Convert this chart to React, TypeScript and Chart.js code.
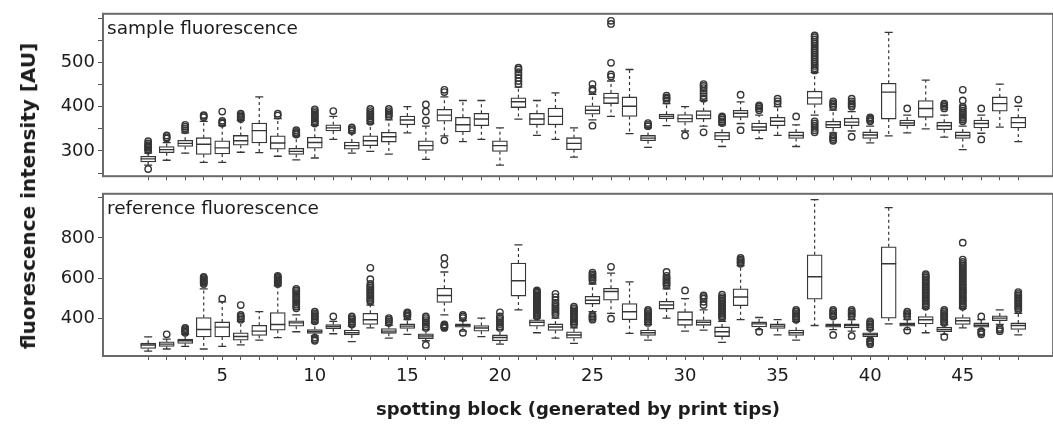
import React, { useEffect, useRef } from 'react';
import { Chart, registerables } from 'chart.js';

Chart.register(...registerables);

// ---------------- data ----------------
const blocks = [1, 2, 3, 4, 5, 6, 7, 8, 9, 10, 11, 12, 13, 14, 15, 16, 17, 18, 19, 20, 21, 22, 23, 24, 25, 26, 27, 28, 29, 30, 31, 32, 33, 34, 35, 36, 37, 38, 39, 40, 41, 42, 43, 44, 45, 46, 47, 48];
const xTickLabels = [5, 10, 15, 20, 25, 30, 35, 40, 45];

const sampleYTicks = [250, 300, 350, 400, 450, 500, 550, 600];
const sampleYLabels = [300, 400, 500];
const refYTicks = [400, 600, 800, 1000];
const refYLabels = [400, 600, 800];

// sample fluorescence
const sampleLow = [268, 279, 295, 274, 274, 297, 296, 288, 280, 284, 326, 295, 299, 293, 341, 281, 334, 321, 326, 268, 372, 335, 326, 286, 370, 378, 339, 308, 357, 345, 356, 310, 362, 328, 335, 310, 381, 341, 345, 318, 334, 341, 350, 331, 303, 340, 354, 321];
const sampleQ1 = [275, 296, 310, 292, 293, 313, 318, 304, 292, 306, 345, 304, 312, 320, 359, 301, 367, 343, 357, 299, 398, 359, 359, 303, 383, 407, 378, 323, 373, 365, 372, 325, 376, 346, 357, 328, 405, 352, 357, 328, 372, 357, 376, 348, 328, 352, 390, 352];
const sampleMed = [282, 303, 317, 315, 307, 323, 346, 318, 299, 319, 352, 312, 323, 332, 370, 312, 381, 359, 372, 312, 411, 372, 378, 317, 392, 420, 401, 329, 378, 373, 381, 334, 385, 354, 367, 335, 420, 359, 365, 336, 433, 363, 396, 357, 335, 362, 407, 364];
const sampleQ3 = [288, 310, 324, 330, 323, 335, 363, 334, 306, 331, 359, 320, 334, 342, 379, 323, 394, 376, 385, 323, 420, 385, 397, 330, 402, 431, 422, 335, 383, 382, 391, 342, 392, 363, 376, 343, 435, 367, 374, 343, 453, 370, 414, 365, 343, 370, 422, 376];
const sampleHigh = [295, 319, 341, 367, 357, 369, 422, 373, 334, 358, 378, 341, 362, 370, 400, 356, 422, 414, 414, 352, 444, 414, 431, 352, 428, 458, 484, 352, 407, 400, 414, 359, 411, 381, 400, 359, 477, 392, 389, 356, 568, 381, 460, 381, 356, 381, 451, 401];
const sampleOutliers = [
  [259, 301, 304, 307, 310, 313, 317, 322],
  [328, 331, 335],
  [347, 351, 355, 359],
  [376, 379, 381],
  [362, 365, 368, 389],
  [372, 375, 378, 381, 384],
  [],
  [380, 384],
  [337, 340, 343, 347],
  [362, 366, 370, 374, 378, 382, 386, 390, 394],
  [390],
  [345, 349, 353],
  [366, 370, 374, 378, 382, 386, 390, 395],
  [378, 382, 386, 390, 395],
  [],
  [369, 389, 405],
  [324, 433, 438],
  [],
  [],
  [],
  [451, 458, 465, 472, 478, 484, 488],
  [],
  [],
  [],
  [357, 436, 440, 451],
  [468, 473, 499, 587, 594],
  [],
  [356, 359, 363],
  [414, 418, 421, 425],
  [335],
  [342, 418, 424, 430, 436, 442, 447, 451],
  [363, 367, 371, 375, 378],
  [347, 427],
  [392, 396, 400, 403],
  [407, 412, 418],
  [378],
  [342, 347, 352, 357, 362, 367, 482, 487, 492, 497, 502, 507, 512, 517, 522, 527, 532, 537, 542, 547, 552, 557, 561],
  [323, 327, 331, 335, 400, 404, 408, 412],
  [332, 400, 404, 408, 412, 418],
  [367, 370, 373, 376],
  [],
  [396],
  [],
  [396, 400, 404, 407],
  [367, 371, 375, 379, 383, 387, 391, 396, 400, 414, 438],
  [326, 396],
  [],
  [416],
];

// reference fluorescence
const refLow = [235, 246, 259, 246, 259, 266, 290, 303, 332, 311, 322, 283, 351, 300, 319, 287, 416, 335, 308, 270, 441, 327, 300, 274, 432, 424, 324, 290, 400, 335, 340, 279, 392, 343, 316, 290, 363, 343, 335, 295, 371, 343, 327, 319, 351, 343, 368, 316];
const refQ1 = [249, 259, 274, 306, 306, 290, 314, 340, 360, 324, 347, 316, 368, 324, 348, 298, 478, 355, 335, 287, 510, 360, 338, 300, 470, 489, 392, 314, 445, 364, 364, 308, 462, 356, 348, 314, 494, 355, 351, 308, 400, 360, 371, 332, 368, 355, 387, 343];
const refMed = [266, 270, 287, 343, 355, 308, 335, 368, 376, 334, 358, 327, 392, 335, 360, 311, 513, 364, 351, 303, 586, 379, 356, 316, 489, 533, 432, 327, 465, 392, 379, 332, 505, 371, 360, 327, 606, 363, 363, 319, 671, 368, 392, 343, 387, 364, 400, 363];
const refQ3 = [275, 282, 295, 403, 381, 327, 364, 428, 387, 343, 368, 340, 424, 348, 371, 322, 549, 371, 363, 316, 675, 392, 371, 332, 509, 549, 473, 340, 484, 432, 392, 356, 546, 381, 371, 340, 716, 371, 371, 327, 756, 376, 408, 355, 403, 376, 411, 376];
const refHigh = [306, 295, 319, 546, 481, 384, 432, 562, 416, 376, 384, 360, 465, 364, 392, 343, 630, 387, 400, 343, 765, 400, 400, 351, 570, 624, 581, 368, 546, 497, 441, 384, 662, 403, 392, 384, 991, 400, 392, 343, 951, 392, 449, 368, 449, 392, 441, 424];
const refOutliers = [
  [],
  [319],
  [327, 333, 339, 345, 351],
  [570, 576, 582, 588, 594, 600, 606],
  [497],
  [392, 400, 408, 416, 465],
  [],
  [570, 576, 582, 588, 594, 600, 606, 611],
  [449, 458, 467, 476, 485, 494, 503, 512, 521, 530, 538, 546],
  [287, 295, 303, 384, 392, 400, 408, 416, 424, 432],
  [408],
  [368, 376, 384, 392, 400, 408],
  [481, 489, 497, 505, 513, 521, 529, 537, 545, 553, 561, 570, 594, 651],
  [376, 384, 392, 400],
  [408, 414, 420, 426, 429],
  [266, 351, 360, 370, 380, 390, 400, 408],
  [351, 355, 360, 364, 368, 667, 700],
  [327, 400, 408, 416],
  [],
  [351, 360, 370, 380, 390, 400, 408, 429],
  [],
  [408, 415, 422, 429, 436, 443, 450, 457, 464, 471, 478, 485, 492, 499, 506, 513, 520, 527, 533, 538],
  [416, 426, 436, 446, 456, 466, 476, 490, 505, 521],
  [368, 376, 384, 392, 400, 408, 416, 424, 432, 440, 449, 457],
  [392, 400, 408, 416, 586, 594, 602, 610, 618, 627],
  [397, 656],
  [],
  [376, 384, 392, 400, 408, 416, 424, 432, 441],
  [562, 570, 578, 586, 594, 602, 611, 630],
  [538],
  [465, 481, 497, 505, 513],
  [400, 408, 416, 424, 432, 441, 449, 457, 465, 473, 481, 489, 497, 505, 517],
  [671, 678, 685, 692, 700],
  [332],
  [],
  [392, 400, 408, 416, 424, 432, 441],
  [],
  [316, 408, 416, 424, 432, 441],
  [311, 408, 416, 424, 432, 441],
  [270, 276, 282, 290, 351, 360, 368, 376, 384],
  [],
  [338, 408, 416, 424, 432],
  [457, 465, 473, 481, 489, 497, 505, 513, 521, 529, 537, 545, 553, 561, 570, 578, 586, 594, 602, 610, 619],
  [306, 376, 384, 392, 400, 408, 416, 424, 432, 441],
  [457, 465, 473, 481, 489, 497, 505, 513, 521, 529, 537, 545, 553, 561, 570, 580, 590, 600, 610, 620, 630, 640, 650, 660, 670, 680, 692, 776],
  [319, 327, 335, 408],
  [335, 343, 351],
  [441, 449, 457, 465, 473, 481, 489, 497, 505, 513, 521, 530],
];

// ---------------- styling ----------------
const FONT = "'DejaVu Sans', sans-serif";
const INK = '#1c1c1c';
const LINE = '#363636';
const FRAME = '#6a6a6a';
const X_MIN = -1.44;
const X_MAX = 49.88;

const framePlugin = {
  id: 'panelFrame',
  afterDraw(chart: any, _args: any, opts: any) {
    const { ctx, chartArea } = chart;
    const { left, top, right, bottom } = chartArea;
    ctx.save();
    ctx.strokeStyle = FRAME;
    ctx.lineWidth = 2;
    ctx.strokeRect(left, top, right - left, bottom - top);
    ctx.fillStyle = INK;
    ctx.font = `18.5px ${FONT}`;
    ctx.textBaseline = 'alphabetic';
    ctx.textAlign = 'left';
    ctx.fillText(opts.label, left + 4, top + 20);
    ctx.restore();
  },
};

function buildDatasets(lo: number[], q1: number[], med: number[], q3: number[], hi: number[], out: number[][]) {
  const whiskers: any[] = [];
  const caps: any[] = [];
  const outliers: any[] = [];
  blocks.forEach((b, i) => {
    whiskers.push({ x: b, y: q3[i] }, { x: b, y: hi[i] }, { x: b, y: null }, { x: b, y: q1[i] }, { x: b, y: lo[i] }, { x: b, y: null });
    caps.push({ x: b, y: lo[i] }, { x: b, y: hi[i] });
    out[i].forEach((v) => outliers.push({ x: b, y: v }));
  });
  return [
    {
      type: 'line',
      data: whiskers,
      borderColor: LINE,
      borderWidth: 1.2,
      borderDash: [3, 3],
      pointRadius: 0,
      spanGaps: false,
      order: 4,
    },
    {
      type: 'bar',
      data: blocks.map((b, i) => ({ x: b, y: [q1[i], q3[i]] })),
      backgroundColor: '#ffffff',
      borderColor: LINE,
      borderWidth: 1.3,
      borderSkipped: false,
      barThickness: 15,
      order: 3,
    },
    {
      type: 'scatter',
      data: blocks.map((b, i) => ({ x: b, y: med[i] })),
      pointStyle: 'line',
      pointRadius: 7.5,
      borderColor: LINE,
      pointBorderColor: LINE,
      pointBorderWidth: 1.4,
      order: 2,
    },
    {
      type: 'scatter',
      data: caps,
      pointStyle: 'line',
      pointRadius: 4,
      borderColor: LINE,
      pointBorderColor: LINE,
      pointBorderWidth: 1.3,
      order: 1,
    },
    {
      type: 'scatter',
      data: outliers,
      pointStyle: 'circle',
      pointRadius: 3.2,
      backgroundColor: 'rgba(0,0,0,0)',
      pointBackgroundColor: 'rgba(0,0,0,0)',
      borderColor: LINE,
      pointBorderColor: LINE,
      pointBorderWidth: 1.4,
      order: 0,
    },
  ];
}

function xScale(height: number, showLabels: boolean) {
  return {
    type: 'linear',
    min: X_MIN,
    max: X_MAX,
    offset: false,
    afterBuildTicks: (s: any) => {
      s.ticks = blocks.map((v) => ({ value: v }));
    },
    afterFit: (s: any) => {
      s.height = height;
    },
    border: { display: false },
    grid: { drawOnChartArea: false, drawTicks: true, tickLength: 4, color: '#555', lineWidth: 1, offset: false },
    ticks: {
      display: showLabels,
      autoSkip: false,
      maxRotation: 0,
      minRotation: 0,
      padding: 6,
      color: INK,
      font: { family: FONT, size: 18 },
      callback: (v: any) => (xTickLabels.includes(Number(v)) ? String(v) : ''),
    },
    title: showLabels
      ? {
          display: true,
          text: 'spotting block (generated by print tips)',
          color: INK,
          font: { family: FONT, size: 18, weight: 'bold' },
          padding: { top: 0, bottom: 3 },
        }
      : { display: false },
  };
}

function yScale(min: number, max: number, ticks: number[], labels: number[]) {
  return {
    type: 'linear',
    min,
    max,
    afterBuildTicks: (s: any) => {
      s.ticks = ticks.map((v) => ({ value: v }));
    },
    afterFit: (s: any) => {
      s.width = 103;
    },
    border: { display: false },
    grid: { drawOnChartArea: false, drawTicks: true, tickLength: 5, color: '#555', lineWidth: 1 },
    ticks: {
      autoSkip: false,
      padding: 3,
      color: INK,
      font: { family: FONT, size: 18 },
      callback: (v: any) => (labels.includes(Number(v)) ? String(v) : ''),
    },
  };
}

function makeConfig(datasets: any[], label: string, yMin: number, yMax: number, yTicks: number[], yLabels: number[], xHeight: number, showX: boolean, padTop: number) {
  return {
    type: 'bar',
    data: { datasets },
    plugins: [framePlugin],
    options: {
      animation: false,
      responsive: false,
      devicePixelRatio: 1,
      events: [],
      layout: { padding: { top: padTop, left: 0, right: 6, bottom: 0 } },
      plugins: {
        legend: { display: false },
        tooltip: { enabled: false },
        panelFrame: { label },
      },
      scales: {
        x: xScale(xHeight, showX),
        y: yScale(yMin, yMax, yTicks, yLabels),
      },
    },
  } as any;
}

export default function App() {
  const topRef = useRef<HTMLCanvasElement>(null);
  const botRef = useRef<HTMLCanvasElement>(null);

  useEffect(() => {
    const top = new Chart(
      topRef.current as HTMLCanvasElement,
      makeConfig(
        buildDatasets(sampleLow, sampleQ1, sampleMed, sampleQ3, sampleHigh, sampleOutliers),
        'sample fluorescence',
        242.9,
        609.9,
        sampleYTicks,
        sampleYLabels,
        12,
        false,
        11
      )
    );
    const bot = new Chart(
      botRef.current as HTMLCanvasElement,
      makeConfig(
        buildDatasets(refLow, refQ1, refMed, refQ3, refHigh, refOutliers),
        'reference fluorescence',
        211,
        1020,
        refYTicks,
        refYLabels,
        68,
        true,
        8
      )
    );
    return () => {
      top.destroy();
      bot.destroy();
    };
  }, []);

  return (
    <div style={{ position: 'fixed', left: 0, top: 0, width: 1053, height: 424, overflow: 'hidden', background: '#fff' }}>
      <canvas ref={topRef} width={1062} height={190} style={{ position: 'absolute', left: 0, top: 0, width: 1062, height: 190 }} />
      <canvas ref={botRef} width={1062} height={244} style={{ position: 'absolute', left: 0, top: 180, width: 1062, height: 244 }} />
      <div
        style={{
          position: 'absolute',
          left: 28,
          top: 196,
          transform: 'translate(-50%, -50%) rotate(-90deg)',
          whiteSpace: 'nowrap',
          font: `bold 20px ${FONT}`,
          color: INK,
        }}
      >
        fluorescence intensity [AU]
      </div>
    </div>
  );
}
